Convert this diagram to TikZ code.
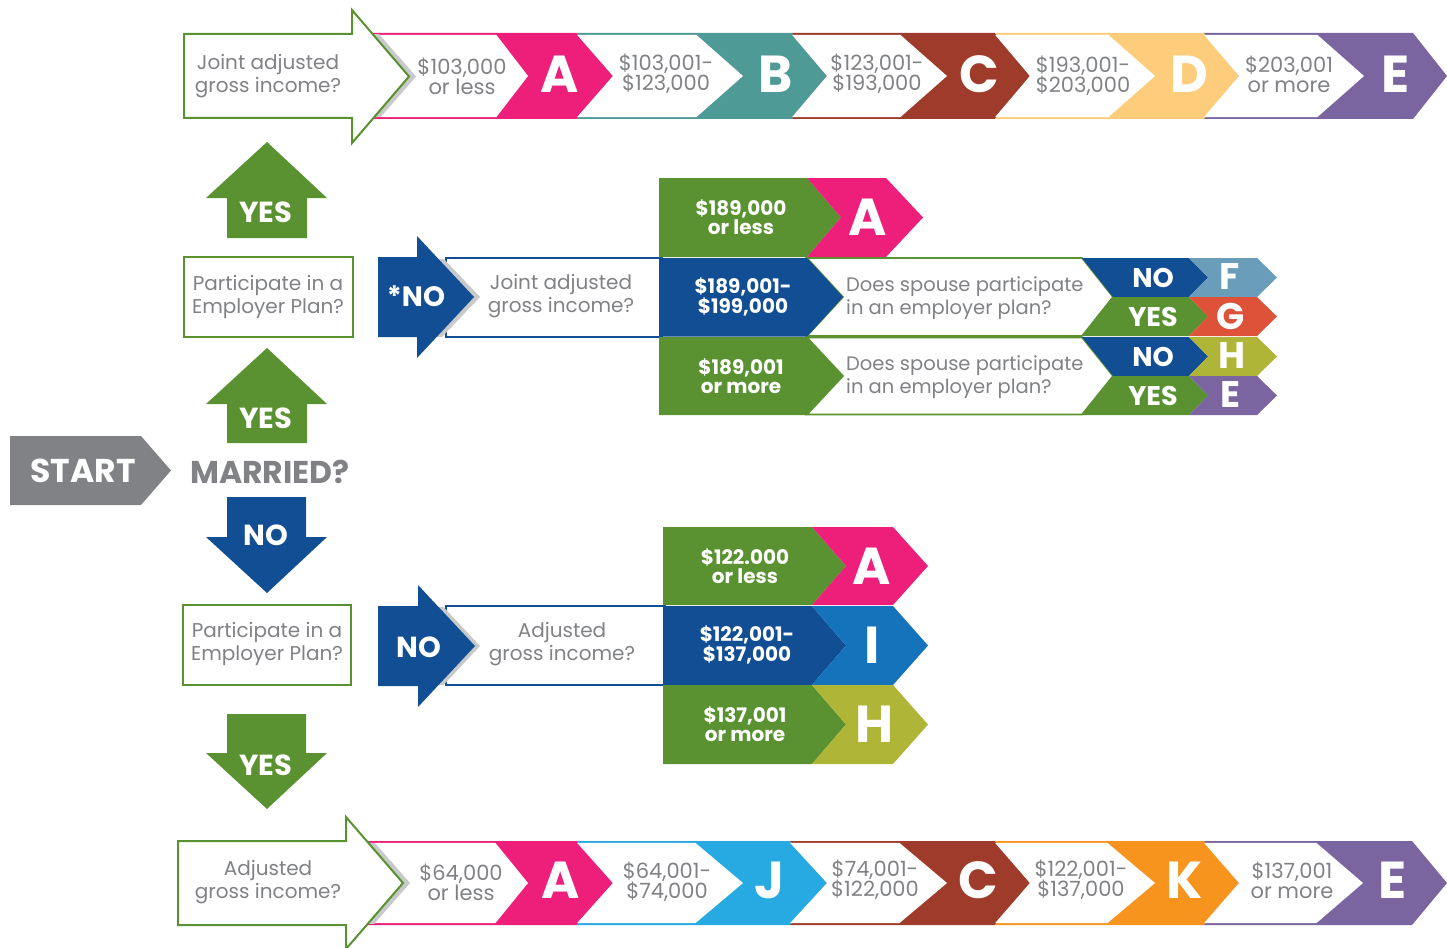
\documentclass[tikz,border=0pt]{standalone}
\usepackage{fontspec}
\setmainfont{Poppins}
\definecolor{txtgray}{HTML}{808285}
\definecolor{stgray}{HTML}{808285}
\definecolor{shgray}{HTML}{C8C9CA}
\definecolor{cgreen}{HTML}{5A9232}
\definecolor{cblue}{HTML}{124E93}
\definecolor{cpink}{HTML}{EE1F7B}
\definecolor{cteal}{HTML}{4D9A97}
\definecolor{cbrown}{HTML}{9F3B2A}
\definecolor{cyellow}{HTML}{FDCD7C}
\definecolor{cpurple}{HTML}{7A65A0}
\definecolor{cF}{HTML}{6A9DB9}
\definecolor{cG}{HTML}{DF523A}
\definecolor{cH}{HTML}{AEB537}
\definecolor{cI}{HTML}{1473BA}
\definecolor{cJ}{HTML}{27AAE1}
\definecolor{cK}{HTML}{F7941E}
% strip segment: #1 xL, #2 xNotch, #3 xW, #4 xWtip, #5 xR, #6 xTip, #7 top, #8 bottom, #9 colour
\newcommand\stripseg[9]{%
  \pgfmathsetmacro\ym{(#7+#8)/2}%
  \fill[#9] (#1,#7) -- (#5,#7) -- (#6,\ym) -- (#5,#8) -- (#1,#8) -- (#2,\ym) -- cycle;
  \fill[white] (#1,#7+1.8) -- (#3+1.3,#7+1.8) -- (#4,\ym) -- (#3+1.3,#8-1.8) -- (#1,#8-1.8) -- (#2,\ym) -- cycle;
}
\begin{document}
\begin{tikzpicture}[x=1pt,y=-1pt,
  gtxt/.style={text=txtgray, align=center, inner sep=0pt, font=\fontsize{21}{20}\selectfont},
  qtxt/.style={text=txtgray, align=center, inner sep=0pt, font=\fontsize{20}{23.5}\selectfont},
  gtxtl/.style={text=txtgray, align=left, inner sep=0pt, font=\fontsize{19.5}{23}\selectfont},
  wtxt/.style={text=white, align=center, inner sep=0pt, font=\bfseries\fontsize{20}{19.5}\selectfont},
  bigl/.style={text=white, inner sep=0pt, font=\bfseries\fontsize{52}{52}\selectfont},
  midl/.style={text=white, inner sep=0pt, font=\bfseries\fontsize{37}{37}\selectfont},
  yn/.style={text=white, inner sep=0pt, font=\bfseries\fontsize{27}{27}\selectfont},
  arrl/.style={text=white, inner sep=0pt, font=\bfseries\fontsize{29}{29}\selectfont},
  qbox/.style={draw=cgreen, line width=2pt, fill=white},
  bbox/.style={draw=cblue, line width=1.6pt, fill=white}]
\useasboundingbox (0,0) rectangle (1447,947);

% ================= TOP ROW =================
\stripseg{360}{360}{495}{528}{577}{613}{33}{119}{cpink}
\stripseg{577}{613}{695}{743}{792}{827}{33}{119}{cteal}
\stripseg{792}{827}{899}{947}{995}{1030}{33}{119}{cbrown}
\stripseg{995}{1030}{1107}{1155}{1204}{1239}{33}{119}{cyellow}
\stripseg{1204}{1239}{1316}{1364}{1413}{1447}{33}{119}{cpurple}
\begin{scope}
  \clip (352,35) rectangle (430,117);
  \fill[shgray] (358,10) -- (416,76.5) -- (358,143) -- cycle;
\end{scope}
\draw[qbox] (184,34) -- (352,34) -- (352,10) -- (409,76.5) -- (352,143) -- (352,118) -- (184,118) -- cycle;
\node[qtxt] (tq1) at (268,76) {Joint adjusted\\gross income?};
\node[gtxt] (t1a) at (462,76) {\$103,000\\or less};
\node[gtxt] (t1b) at (666,74) {\$103,001-\\\$123,000};
\node[gtxt] (t1c) at (877,74) {\$123,001-\\\$193,000};
\node[gtxt] (t1d) at (1083,76) {\$193,001-\\\$203,000};
\node[gtxt] (t1e) at (1289,74) {\$203,001\\or more};
\node[bigl] (l1a) at (560,74) {A};
\node[bigl] (l1b) at (776,74) {B};
\node[bigl] (l1c) at (979,74) {C};
\node[bigl] (l1d) at (1189,74) {D};
\node[bigl] (l1e) at (1396,74) {E};

% ================= LEFT COLUMN =================
\fill[cgreen] (267,142) -- (327,198) -- (307,198) -- (307,238) -- (227,238) -- (227,198) -- (206,198) -- cycle;
\node[arrl] (yes1) at (266,212) {YES};
\draw[qbox] (184,257) rectangle (353,337);
\node[qtxt] (pq1) at (268,297) {Participate in a\\Employer Plan?};
\fill[cgreen] (267,348) -- (327,404) -- (307,404) -- (307,443) -- (227,443) -- (227,404) -- (206,404) -- cycle;
\node[arrl] (yes2) at (266,418) {YES};
\fill[stgray] (10,436) -- (141,436) -- (171,470.5) -- (141,505) -- (10,505) -- cycle;
\node[text=white, inner sep=0pt, font=\bfseries\fontsize{33}{33}\selectfont] (start) at (83,471) {START};
\node[text=txtgray, inner sep=0pt, font=\bfseries\fontsize{31.5}{31.5}\selectfont] (married) at (270,472) {MARRIED?};
\fill[cblue] (227,497) -- (306,497) -- (306,537) -- (327,537) -- (267,593) -- (206,537) -- (227,537) -- cycle;
\node[arrl] (no1) at (266,535) {NO};
\draw[qbox] (183,605) rectangle (351,685);
\node[qtxt] (pq2) at (267,644) {Participate in a\\Employer Plan?};
\fill[cgreen] (227,714) -- (306,714) -- (306,753) -- (327,753) -- (267,809) -- (206,753) -- (227,753) -- cycle;
\node[arrl] (yes3) at (266,765) {YES};

% ================= MIDDLE UPPER (married, not participating) =================
\draw[bbox] (446,258) rectangle (662,337);
\begin{scope}
  \clip (417,259) rectangle (500,336);
  \fill[shgray] (422,236) -- (480,297) -- (422,358) -- cycle;
\end{scope}
\fill[cblue] (378,257) -- (417,257) -- (417,236) -- (474,297) -- (417,358) -- (417,337) -- (378,337) -- cycle;
\node[arrl, font=\bfseries\fontsize{28}{28}\selectfont] (sno) at (416,296) {*NO};
\node[qtxt] (jq2) at (561,296) {Joint adjusted\\gross income?};
% row 1
\fill[cgreen] (659,178) -- (807,178) -- (841,217.5) -- (807,257) -- (659,257) -- cycle;
\fill[cpink] (807,178) -- (886,178) -- (923,217.5) -- (886,257) -- (807,257) -- (841,217.5) -- cycle;
\node[wtxt] (m1) at (741,217) {\$189,000\\or less};
\node[bigl] (m1l) at (868,217) {A};
% row 2
\filldraw[fill=white, draw=cgreen, line width=1.6pt] (807,258) -- (1082,258) -- (1113,297) -- (1082,336) -- (807,336) -- (843,297) -- cycle;
\fill[cblue] (659,258) -- (807,258) -- (843,297) -- (807,336.5) -- (659,336.5) -- cycle;
\node[wtxt] (m2) at (743,297) {\$189,001-\\\$199,000};
\node[gtxtl, anchor=west] (sp1) at (846,298) {Does spouse participate\\in an employer plan?};
\fill[cblue] (1082,258) -- (1189,258) -- (1208,277.5) -- (1189,297) -- (1113,297) -- cycle;
\fill[cgreen] (1113,297) -- (1189,297) -- (1208,316.5) -- (1189,336) -- (1082,336) -- cycle;
\fill[cF] (1189,258) -- (1257,258) -- (1277,277.5) -- (1257,297) -- (1189,297) -- (1208,277.5) -- cycle;
\fill[cG] (1189,297) -- (1257,297) -- (1277,316.5) -- (1257,336) -- (1189,336) -- (1208,316.5) -- cycle;
\node[yn] (n1) at (1153,278) {NO};
\node[yn] (y1) at (1153,317) {YES};
\node[midl] (lf) at (1230,277) {F};
\node[midl] (lg) at (1231,316) {G};
% row 3
\filldraw[fill=white, draw=cgreen, line width=1.6pt] (807,337.5) -- (1082,337.5) -- (1113,376) -- (1082,414.5) -- (807,414.5) -- (843,376) -- cycle;
\fill[cgreen] (659,337) -- (807,337) -- (843,376) -- (807,415) -- (659,415) -- cycle;
\node[wtxt] (m3) at (741,376) {\$189,001\\or more};
\node[gtxtl, anchor=west] (sp2) at (846,377) {Does spouse participate\\in an employer plan?};
\fill[cblue] (1082,337) -- (1189,337) -- (1208,356.5) -- (1189,376) -- (1113,376) -- cycle;
\fill[cgreen] (1113,376) -- (1189,376) -- (1208,395.5) -- (1189,415) -- (1082,415) -- cycle;
\fill[cH] (1189,337) -- (1257,337) -- (1277,356.5) -- (1257,376) -- (1189,376) -- (1208,356.5) -- cycle;
\fill[cpurple] (1189,376) -- (1257,376) -- (1277,395.5) -- (1257,415) -- (1189,415) -- (1208,395.5) -- cycle;
\node[yn] (n2) at (1153,357) {NO};
\node[yn] (y2) at (1153,396) {YES};
\node[midl] (lh) at (1232,356) {H};
\node[midl] (le) at (1230,395) {E};

% ================= MIDDLE LOWER (single, not participating) =================
\draw[bbox] (446,606) rectangle (665,685);
\begin{scope}
  \clip (418,607) rectangle (500,684);
  \fill[shgray] (423,585) -- (480,646) -- (423,707) -- cycle;
\end{scope}
\fill[cblue] (378,606) -- (418,606) -- (418,585) -- (475,646) -- (418,707) -- (418,686) -- (378,686) -- cycle;
\node[arrl] (no2) at (419,647) {NO};
\node[qtxt] (aq2) at (562,644) {Adjusted\\gross income?};
\fill[cgreen] (663,527) -- (812,527) -- (846,566) -- (812,605) -- (663,605) -- cycle;
\fill[cpink] (812,527) -- (893,527) -- (928,566) -- (893,605) -- (812,605) -- (846,566) -- cycle;
\fill[cblue] (663,606) -- (812,606) -- (846,645.5) -- (812,685) -- (663,685) -- cycle;
\fill[cI] (812,606) -- (893,606) -- (928,645.5) -- (893,685) -- (812,685) -- (846,645.5) -- cycle;
\fill[cgreen] (663,685) -- (812,685) -- (846,724.5) -- (812,764) -- (663,764) -- cycle;
\fill[cH] (812,685) -- (893,685) -- (928,724.5) -- (893,764) -- (812,764) -- (846,724.5) -- cycle;
\node[wtxt] (s1) at (745,566) {\$122.000\\or less};
\node[wtxt] (s2) at (747,645) {\$122,001-\\\$137,000};
\node[wtxt] (s3) at (745,724) {\$137,001\\or more};
\node[bigl] (s1l) at (872,566) {A};
\node[bigl] (s2l) at (872,645) {I};
\node[bigl] (s3l) at (874,724) {H};

% ================= BOTTOM ROW =================
\stripseg{355}{355}{494}{528}{577}{613}{841}{925}{cpink}
\stripseg{577}{613}{694}{743}{790}{827}{841}{925}{cJ}
\stripseg{790}{827}{898}{947}{995}{1030}{841}{925}{cbrown}
\stripseg{995}{1030}{1106}{1155}{1204}{1239}{841}{925}{cK}
\stripseg{1204}{1239}{1315}{1363}{1412}{1447}{841}{925}{cpurple}
\begin{scope}
  \clip (346,843) rectangle (425,923);
  \fill[shgray] (352,817) -- (410,883) -- (352,949) -- cycle;
\end{scope}
\draw[qbox] (178,841) -- (346,841) -- (346,817) -- (403,883) -- (346,949) -- (346,925) -- (178,925) -- cycle;
\node[qtxt] (bq) at (268,882) {Adjusted\\gross income?};
\node[gtxt] (t2a) at (461,882) {\$64,000\\or less};
\node[gtxt] (t2b) at (667,882) {\$64,001-\\\$74,000};
\node[gtxt] (t2c) at (875,880) {\$74,001-\\\$122,000};
\node[gtxt] (t2d) at (1081,880) {\$122,001-\\\$137,000};
\node[gtxt] (t2e) at (1292,880) {\$137,001\\or more};
\node[bigl] (l2a) at (561,880) {A};
\node[bigl] (l2j) at (770,880) {J};
\node[bigl] (l2c) at (978,880) {C};
\node[bigl] (l2k) at (1185,880) {K};
\node[bigl] (l2e) at (1393,880) {E};
\end{tikzpicture}
\end{document}
